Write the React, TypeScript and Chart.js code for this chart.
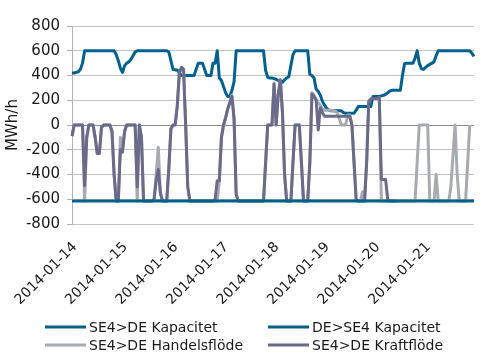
import React, { useEffect, useRef } from 'react';
import { Chart, registerables } from 'chart.js';

Chart.register(...registerables);

const dayLabels = ['2014-01-14', '2014-01-15', '2014-01-16', '2014-01-17', '2014-01-18', '2014-01-19', '2014-01-20', '2014-01-21'];

const seriesNames = ['SE4>DE Kapacitet', 'DE>SE4 Kapacitet', 'SE4>DE Handelsflöde', 'SE4>DE Kraftflöde'];

// hourly values, one line per day
const se4DeKapacitet = [
  420, 420, 425, 430, 450, 500, 600, 600, 600, 600, 600, 600, 600, 600, 600, 600, 600, 600, 600, 600, 600, 570, 520, 460,
  425, 480, 500, 510, 530, 560, 590, 600, 600, 600, 600, 600, 600, 600, 600, 600, 600, 600, 600, 600, 600, 600, 590, 520,
  450, 445, 445, 420, 400, 400, 400, 400, 400, 400, 400, 450, 500, 500, 500, 450, 400, 400, 400, 500, 500, 600, 380, 360,
  310, 260, 230, 230, 280, 350, 600, 600, 600, 600, 600, 600, 600, 600, 600, 600, 600, 600, 600, 600, 440, 385, 380, 380,
  375, 370, 360, 350, 345, 365, 380, 390, 480, 570, 600, 600, 600, 600, 600, 600, 600, 410, 400, 380, 290, 270, 240, 190,
  160, 135, 120, 115, 115, 115, 115, 115, 115, 100, 95, 95, 95, 95, 95, 120, 150, 150, 150, 150, 150, 150, 150, 230,
  230, 230, 230, 235, 240, 248, 260, 275, 280, 280, 280, 280, 280, 400, 495, 500, 500, 500, 500, 540, 600, 500, 455, 450,
  465, 480, 490, 500, 510, 560, 600, 600, 600, 600, 600, 600, 600, 600, 600, 600, 600, 600, 600, 600, 600, 600, 580, 555,
];

const deSe4Kapacitet = [
  -615, -615, -615, -615, -615, -615, -615, -615, -615, -615, -615, -615, -615, -615, -615, -615, -615, -615, -615, -615, -615, -615, -615, -615,
  -615, -615, -615, -615, -615, -615, -615, -615, -615, -615, -615, -615, -615, -615, -615, -615, -615, -615, -615, -615, -615, -615, -615, -615,
  -615, -615, -615, -615, -615, -615, -615, -615, -615, -615, -615, -615, -615, -615, -615, -615, -615, -615, -615, -615, -615, -615, -615, -615,
  -615, -615, -615, -615, -615, -615, -615, -615, -615, -615, -615, -615, -615, -615, -615, -615, -615, -615, -615, -615, -615, -615, -615, -615,
  -615, -615, -615, -615, -615, -615, -615, -615, -615, -615, -615, -615, -615, -615, -615, -615, -615, -615, -615, -615, -615, -615, -615, -615,
  -615, -615, -615, -615, -615, -615, -615, -615, -615, -615, -615, -615, -615, -615, -615, -615, -615, -615, -615, -615, -615, -615, -615, -615,
  -615, -615, -615, -615, -615, -615, -615, -615, -615, -615, -615, -615, -615, -615, -615, -615, -615, -615, -615, -615, -615, -615, -615, -615,
  -615, -615, -615, -615, -615, -615, -615, -615, -615, -615, -615, -615, -615, -615, -615, -615, -615, -615, -615, -615, -615, -615, -615, -615,
];

const se4DeHandelsflode = [
  -90, 0, 0, 0, 0, 0, -615, -100, 0, 0, 0, -100, -230, -230, -20, 0, 0, 0, 0, -50, -400, -615, -615, -100,
  -200, -50, 0, 0, 0, 0, 0, -615, 0, -100, -615, -615, -615, -615, -615, -600, -400, -180, -550, -615, -615, -615, -350, -30,
  0, 0, 150, 420, 465, 450, 0, -500, -615, -615, -615, -615, -615, -615, -615, -615, -615, -615, -615, -615, -615, -615, -450, -100,
  0, 60, 130, 190, 240, 50, -560, -615, -615, -615, -615, -615, -615, -615, -615, -615, -615, -615, -615, -615, -300, 0,
  0, 0, 340, 0, 250, 370, 100, -400, -615, -615, -615, -300, 0, 0, 0, -300, -615, -615, -615, -300, 260, 240, 210, 180,
  160, 130, 120, 120, 120, 120, 115, 110, 100, 50, 0, 0, 0, 80, 80, 0, -300, -600, -615, -615, -540, -615, -300, 190,
  210, 215, 215, 215, 220, -615, -615, -615, -615, -615, -615, -615, -615, -615, -615, -615, -615, -615, -615, -615, -615, -615, -300, 0,
  0, 0, 0, 0, -615, -615, -615, -400, -615, -615, -615, -615, -615, -615, -500, -250, 0, -400, -615, -615, -615, -615, -300, 0,
];

const se4DeKraftflode = [
  -90, 0, 0, 0, 0, 0, -490, -100, 0, 0, 0, -100, -230, -230, -20, 0, 0, 0, 0, -50, -400, -615, -615, -200,
  -220, -50, 0, 0, 0, 0, 0, -500, 0, -100, -615, -615, -615, -615, -615, -600, -450, -360, -550, -615, -615, -615, -350, -30,
  0, 0, 150, 420, 465, 450, 0, -500, -615, -615, -615, -615, -615, -615, -615, -615, -615, -615, -615, -615, -600, -450, -450, -100,
  0, 60, 130, 180, 230, 50, -560, -615, -615, -615, -615, -615, -615, -615, -615, -615, -615, -615, -615, -615, -300, 0,
  0, 0, 330, 0, 250, 360, 100, -400, -615, -615, -615, -300, 0, 0, 0, -300, -615, -615, -615, -300, 250, 230, 200, -40,
  140, 100, 70, 70, 70, 70, 70, 70, 70, 70, 70, 70, 70, 70, 70, 0, -300, -600, -615, -615, -615, -615, -300, 190,
  210, 215, 215, 215, 220, -440, -440, -440, -600, -615, -615, -615, -615, null, null, null, null, null, null, null, null, null, null, null,
  null, null, null, null, null, null, null, null, null, null, null, null, null, null, null, null, null, null, null, null, null, null, null, null,
];

const seriesColors = ['#00618E', '#00618E', '#A7AAAE', '#6A6A8A'];

const categories: string[] = [];
dayLabels.forEach((d) => {
  for (let h = 0; h < 24; h++) categories.push(`${d} ${String(h).padStart(2, '0')}:00`);
});

const gridLegend = {
  id: 'gridLegend',
  afterDraw(chart: any) {
    const ctx = chart.ctx;
    const cols = [45, 268];
    const rows = [327, 345];
    ctx.save();
    ctx.font = '14px "DejaVu Sans"';
    ctx.textBaseline = 'middle';
    ctx.textAlign = 'left';
    seriesNames.forEach((name, i) => {
      const x = cols[i % 2];
      const y = rows[Math.floor(i / 2)];
      ctx.strokeStyle = seriesColors[i];
      ctx.lineWidth = 3;
      ctx.beginPath();
      ctx.moveTo(x, y);
      ctx.lineTo(x + 41, y);
      ctx.stroke();
      ctx.fillStyle = '#1a1a1a';
      ctx.fillText(name, x + 44, y + 1);
    });
    ctx.restore();
  },
};

export default function App() {
  const canvasRef = useRef<HTMLCanvasElement | null>(null);

  useEffect(() => {
    if (!canvasRef.current) return;
    const values = [se4DeKapacitet, deSe4Kapacitet, se4DeHandelsflode, se4DeKraftflode];
    const drawOrder = [3, 0, 2, 1];
    const chart = new Chart(canvasRef.current, {
      type: 'line',
      data: {
        labels: categories,
        datasets: seriesNames.map((name, i) => ({
          label: name,
          data: values[i],
          borderColor: seriesColors[i],
          backgroundColor: seriesColors[i],
          borderWidth: 3,
          pointRadius: 0,
          tension: 0,
          fill: false,
          spanGaps: false,
          order: drawOrder[i],
          borderJoinStyle: 'round' as const,
        })),
      },
      options: {
        animation: false,
        responsive: true,
        maintainAspectRatio: false,
        layout: { padding: { top: 26, right: 25, bottom: 0, left: 0 } },
        plugins: {
          legend: { display: false },
          tooltip: { enabled: false },
        },
        scales: {
          x: {
            type: 'category',
            offset: false,
            grid: { display: false },
            border: { display: false },
            afterFit: (scale: any) => {
              scale.height = 130;
            },
            ticks: {
              autoSkip: false,
              maxRotation: 45,
              minRotation: 45,
              padding: 7,
              labelOffset: 3,
              color: '#1a1a1a',
              font: { family: 'DejaVu Sans', size: 14 },
              callback: (_v: any, idx: number) => (idx % 24 === 0 ? dayLabels[idx / 24] : null),
            },
          },
          y: {
            min: -800,
            max: 800,
            afterFit: (scale: any) => {
              scale.width = 72;
            },
            ticks: {
              stepSize: 200,
              padding: 7,
              color: '#1a1a1a',
              font: { family: 'DejaVu Sans', size: 15 },
            },
            grid: {
              color: (c: any) => (c.tick && c.tick.value === 0 ? '#8a8a8a' : '#c4c4c4'),
              lineWidth: 1,
              drawTicks: true,
              tickLength: 5,
              tickColor: '#b4b4b4',
            },
            border: { display: true, color: '#b4b4b4' },
            title: {
              display: true,
              text: 'MWh/h',
              color: '#1a1a1a',
              font: { family: 'DejaVu Sans', size: 15 },
              padding: { top: 4, bottom: 0 },
            },
          },
        },
      },
      plugins: [gridLegend],
    });
    return () => chart.destroy();
  }, []);

  return (
    <div style={{ position: 'absolute', left: 0, top: 0, width: 499, height: 354 }}>
      <canvas ref={canvasRef} />
    </div>
  );
}
